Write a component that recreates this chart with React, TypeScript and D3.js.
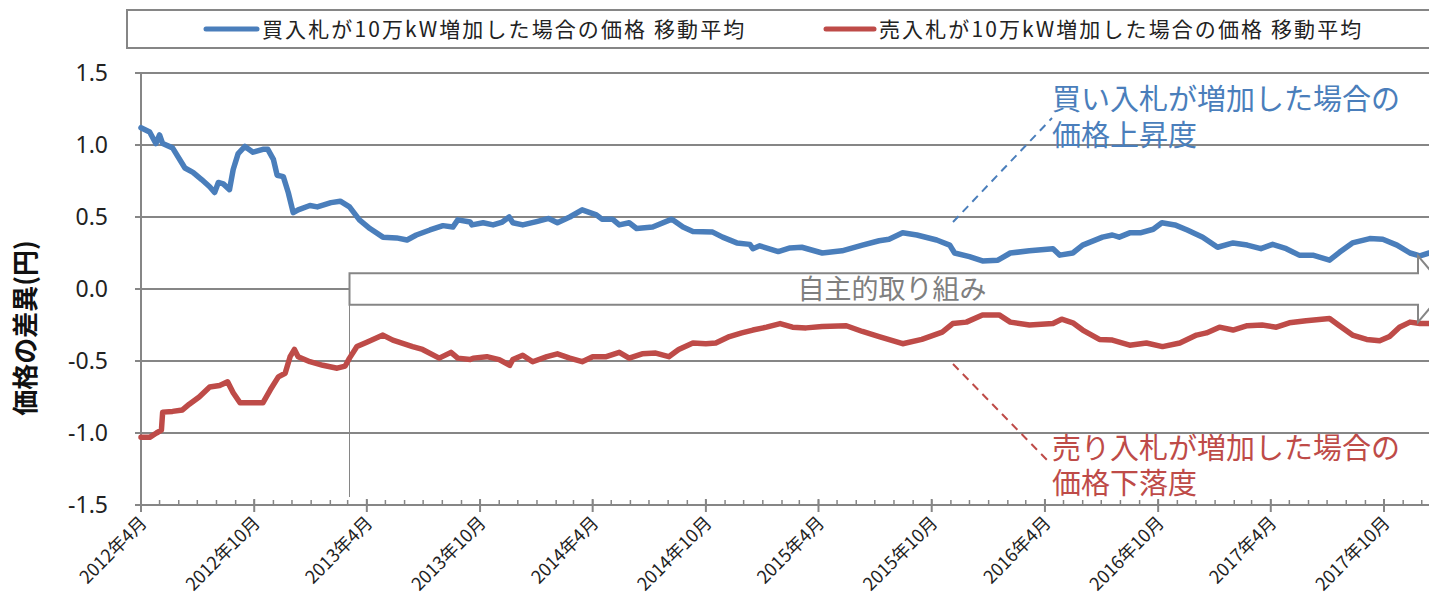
import React from "react";
import * as d3 from "d3";

const buyDates = ["2012-04-01","2012-04-15","2012-04-25","2012-05-01","2012-05-06","2012-05-22","2012-06-11","2012-06-24","2012-07-08","2012-07-21","2012-07-29","2012-08-04","2012-08-12","2012-08-22","2012-08-28","2012-09-05","2012-09-16","2012-09-29","2012-10-15","2012-10-23","2012-11-01","2012-11-07","2012-11-17","2012-11-25","2012-12-03","2012-12-11","2012-12-30","2013-01-11","2013-02-02","2013-02-17","2013-03-04","2013-03-20","2013-04-06","2013-04-27","2013-05-19","2013-06-05","2013-06-20","2013-07-12","2013-08-02","2013-08-18","2013-08-26","2013-09-15","2013-09-18","2013-10-06","2013-10-22","2013-11-06","2013-11-17","2013-11-23","2013-12-09","2014-01-02","2014-01-20","2014-02-03","2014-02-23","2014-03-15","2014-04-07","2014-04-16","2014-05-03","2014-05-14","2014-05-30","2014-06-11","2014-07-07","2014-08-07","2014-08-25","2014-09-10","2014-10-12","2014-10-28","2014-11-20","2014-12-11","2014-12-16","2014-12-27","2015-01-26","2015-02-14","2015-03-05","2015-04-07","2015-05-09","2015-06-11","2015-07-08","2015-07-24","2015-08-15","2015-09-07","2015-10-09","2015-10-30","2015-11-07","2015-12-01","2015-12-22","2016-01-16","2016-02-05","2016-03-07","2016-04-14","2016-04-25","2016-05-16","2016-06-01","2016-07-03","2016-07-19","2016-07-30","2016-08-16","2016-09-02","2016-09-23","2016-10-07","2016-10-28","2016-11-17","2016-12-12","2017-01-05","2017-01-30","2017-02-22","2017-03-16","2017-04-04","2017-04-26","2017-05-17","2017-06-08","2017-07-05","2017-07-21","2017-08-11","2017-09-08","2017-09-29","2017-10-22","2017-11-12","2017-11-28","2017-12-13"];
const buyValues = [1.12,1.09,1.01,1.07,1.01,0.98,0.84,0.81,0.76,0.71,0.67,0.74,0.73,0.69,0.83,0.94,0.99,0.95,0.97,0.97,0.9,0.79,0.78,0.67,0.53,0.55,0.58,0.57,0.6,0.61,0.57,0.48,0.42,0.36,0.355,0.34,0.375,0.41,0.44,0.43,0.48,0.465,0.445,0.46,0.445,0.465,0.5,0.46,0.445,0.47,0.49,0.46,0.5,0.55,0.515,0.485,0.485,0.445,0.46,0.42,0.43,0.485,0.43,0.4,0.395,0.36,0.32,0.31,0.28,0.3,0.26,0.285,0.29,0.25,0.265,0.305,0.335,0.345,0.39,0.375,0.34,0.305,0.25,0.225,0.195,0.2,0.25,0.265,0.28,0.235,0.25,0.305,0.36,0.375,0.36,0.39,0.39,0.415,0.46,0.445,0.41,0.36,0.29,0.32,0.305,0.28,0.31,0.28,0.235,0.235,0.2,0.255,0.32,0.35,0.345,0.305,0.25,0.23,0.25];

const sellDates = ["2012-04-01","2012-04-15","2012-04-26","2012-05-04","2012-05-06","2012-05-22","2012-06-07","2012-06-18","2012-07-04","2012-07-21","2012-08-06","2012-08-19","2012-08-28","2012-09-08","2012-09-29","2012-10-15","2012-10-27","2012-11-09","2012-11-20","2012-11-28","2012-12-05","2012-12-11","2012-12-30","2013-01-20","2013-02-12","2013-02-25","2013-03-04","2013-03-16","2013-04-01","2013-04-27","2013-05-13","2013-06-14","2013-06-30","2013-07-27","2013-08-15","2013-08-26","2013-09-15","2013-09-20","2013-10-12","2013-11-01","2013-11-18","2013-11-23","2013-12-09","2013-12-25","2014-01-17","2014-02-03","2014-02-23","2014-03-15","2014-04-01","2014-04-23","2014-05-14","2014-05-30","2014-06-20","2014-07-12","2014-08-02","2014-08-18","2014-09-10","2014-10-01","2014-10-17","2014-11-08","2014-11-28","2014-12-16","2015-01-07","2015-01-29","2015-02-18","2015-03-12","2015-04-07","2015-05-16","2015-06-11","2015-07-08","2015-08-15","2015-09-15","2015-10-18","2015-11-04","2015-11-26","2015-12-22","2016-01-18","2016-02-05","2016-03-07","2016-04-14","2016-04-28","2016-05-16","2016-06-01","2016-06-28","2016-07-19","2016-08-16","2016-09-12","2016-10-08","2016-11-05","2016-12-02","2016-12-18","2017-01-08","2017-01-30","2017-02-22","2017-03-18","2017-04-10","2017-05-01","2017-05-28","2017-07-05","2017-07-21","2017-08-11","2017-09-03","2017-09-24","2017-10-10","2017-10-26","2017-11-12","2017-11-28","2017-12-13"];
const sellValues = [-1.03,-1.03,-1.0,-0.98,-0.855,-0.85,-0.84,-0.8,-0.75,-0.68,-0.67,-0.645,-0.72,-0.79,-0.79,-0.79,-0.7,-0.61,-0.585,-0.47,-0.42,-0.47,-0.505,-0.53,-0.55,-0.535,-0.48,-0.4,-0.37,-0.32,-0.355,-0.4,-0.42,-0.48,-0.44,-0.48,-0.49,-0.48,-0.47,-0.49,-0.53,-0.49,-0.46,-0.505,-0.47,-0.45,-0.48,-0.505,-0.47,-0.47,-0.44,-0.48,-0.45,-0.445,-0.47,-0.42,-0.375,-0.38,-0.375,-0.33,-0.305,-0.285,-0.265,-0.24,-0.265,-0.27,-0.26,-0.255,-0.295,-0.33,-0.38,-0.35,-0.3,-0.24,-0.23,-0.18,-0.18,-0.23,-0.25,-0.24,-0.21,-0.235,-0.285,-0.35,-0.355,-0.39,-0.375,-0.4,-0.375,-0.32,-0.305,-0.265,-0.285,-0.255,-0.25,-0.265,-0.235,-0.22,-0.205,-0.255,-0.32,-0.35,-0.36,-0.33,-0.265,-0.23,-0.24,-0.24];

const yTicks = [1.5, 1.0, 0.5, 0.0, -0.5, -1.0, -1.5];
const xTickDates = ["2012-04-01","2012-10-01","2013-04-01","2013-10-01","2014-04-01","2014-10-01","2015-04-01","2015-10-01","2016-04-01","2016-10-01","2017-04-01","2017-10-01"];
const xTickLabels = ["2012年4月","2012年10月","2013年4月","2013年10月","2014年4月","2014年10月","2015年4月","2015年10月","2016年4月","2016年10月","2017年4月","2017年10月"];

const seriesNames = ["買入札が10万kW増加した場合の価格 移動平均", "売入札が10万kW増加した場合の価格 移動平均"];
const yTitle = "価格の差異(円)";
const boxLabel = "自主的取り組み";
const buyNote = ["買い入札が増加した場合の", "価格上昇度"];
const sellNote = ["売り入札が増加した場合の", "価格下落度"];

const BLUE = "#4A7EBB";
const RED = "#BE4B48";
const GRID = "#868686";
const JP = "'Noto Sans CJK JP', 'Noto Sans', sans-serif";

export default function App() {
  const W = 1429, H = 607;
  const parse = d3.timeParse("%Y-%m-%d");
  const x = d3.scaleTime().domain([parse("2012-04-01")!, parse("2017-10-01")!]).range([141, 1384]);
  const y = d3.scaleLinear().domain([-1.5, 1.5]).range([505, 73]);
  const line = d3.line<[Date, number]>().x(d => x(d[0])).y(d => y(d[1]));
  const buy: [Date, number][] = buyDates.map((d, i) => [parse(d)!, buyValues[i]]);
  const sell: [Date, number][] = sellDates.map((d, i) => [parse(d)!, sellValues[i]]);
  const minor = d3.timeMonth.range(parse("2012-04-01")!, parse("2018-01-01")!);
  const x0 = x.range()[0];
  const xEnd = W + 20;
  const fmt = (t: number) => d3.format(".1f")(t).replace("\u2212", "-");

  const bx0 = x(parse("2013-03-04")!);
  const bx1 = 1418;
  const bTop = y(0.11), bBot = y(-0.11);
  const aTop = y(0.23), aBot = y(-0.23);
  const tip = 1446;
  const arrow = `M${bx0},${bTop} L${bx1},${bTop} L${bx1},${aTop} L${tip},${y(0)} L${bx1},${aBot} L${bx1},${bBot} L${bx0},${bBot} Z`;

  return (
    <svg width={W} height={H} style={{ position: "absolute", left: 0, top: 0, background: "#fff" }}>
      {/* legend */}
      <rect x={127} y={10} width={W} height={38} fill="#fff" stroke={GRID} strokeWidth={2} />
      <line x1={206} x2={257} y1={29} y2={29} stroke={BLUE} strokeWidth={5} strokeLinecap="round" />
      <text x={262} y={37} fontFamily={JP} fontSize={21} letterSpacing={2.1} fill="#222">{seriesNames[0]}</text>
      <line x1={826} x2={874} y1={29} y2={29} stroke={RED} strokeWidth={5} strokeLinecap="round" />
      <text x={879} y={37} fontFamily={JP} fontSize={21} letterSpacing={2.1} fill="#222">{seriesNames[1]}</text>

      {/* gridlines */}
      {yTicks.filter(t => t !== -1.5).map(t => (
        <line key={t} x1={x0} x2={xEnd} y1={y(t)} y2={y(t)} stroke={GRID} strokeWidth={2} />
      ))}
      {/* y axis */}
      <line x1={x0} x2={x0} y1={y(1.5)} y2={y(-1.5)} stroke={GRID} strokeWidth={2} />
      {yTicks.map(t => (
        <g key={"yt" + t}>
          <line x1={x0 - 6} x2={x0} y1={y(t)} y2={y(t)} stroke={GRID} strokeWidth={2} />
          <text x={108} y={y(t) + 8} textAnchor="end" fontFamily="'Noto Sans', sans-serif" fontSize={23} fill="#222">{fmt(t)}</text>
        </g>
      ))}
      <text transform={`translate(35,${y(-0.27)}) rotate(-90)`} textAnchor="middle" fontFamily={JP} fontWeight="bold" fontSize={26} fill="#111">{yTitle}</text>

      {/* x axis */}
      <line x1={x0} x2={xEnd} y1={y(-1.5)} y2={y(-1.5)} stroke={GRID} strokeWidth={2} />
      {minor.map((d, i) => (
        <line key={"mn" + i} x1={x(d)} x2={x(d)} y1={y(-1.5) - 5} y2={y(-1.5)} stroke={GRID} strokeWidth={1.5} />
      ))}
      {xTickDates.map((d, i) => {
        const px = x(parse(d)!);
        return (
          <g key={"xt" + i}>
            <line x1={px} x2={px} y1={y(-1.5) - 6} y2={y(-1.5) + 7} stroke={GRID} strokeWidth={2} />
            <text transform={`translate(${px + 7},${y(-1.5) + 19}) rotate(-45)`} textAnchor="end" fontFamily={JP} fontSize={18} fill="#222">{xTickLabels[i]}</text>
          </g>
        );
      })}

      {/* vertical marker line */}
      <line x1={bx0} x2={bx0} y1={bBot} y2={497} stroke={GRID} strokeWidth={1} />

      {/* series */}
      <path d={line(buy)!} fill="none" stroke={BLUE} strokeWidth={5.5} strokeLinejoin="round" strokeLinecap="round" />
      <path d={line(sell)!} fill="none" stroke={RED} strokeWidth={5.5} strokeLinejoin="round" strokeLinecap="round" />

      {/* arrow box */}
      <path d={arrow} fill="#fff" stroke={GRID} strokeWidth={2} />
      <text x={892} y={y(0) + 10} textAnchor="middle" fontFamily={JP} fontSize={27} fill="#7f7f7f">{boxLabel}</text>

      {/* annotations */}
      <line x1={953} y1={222} x2={1052} y2={118} stroke={BLUE} strokeWidth={2} strokeDasharray="8,6" />
      <text x={1052} y={110} fontFamily={JP} fontSize={29} fill={BLUE}>{buyNote[0]}</text>
      <text x={1052} y={146} fontFamily={JP} fontSize={29} fill={BLUE}>{buyNote[1]}</text>
      <line x1={953} y1={364} x2={1049} y2={462} stroke={RED} strokeWidth={2} strokeDasharray="8,6" />
      <text x={1052} y={459} fontFamily={JP} fontSize={29} fill={RED}>{sellNote[0]}</text>
      <text x={1052} y={494} fontFamily={JP} fontSize={29} fill={RED}>{sellNote[1]}</text>
    </svg>
  );
}
